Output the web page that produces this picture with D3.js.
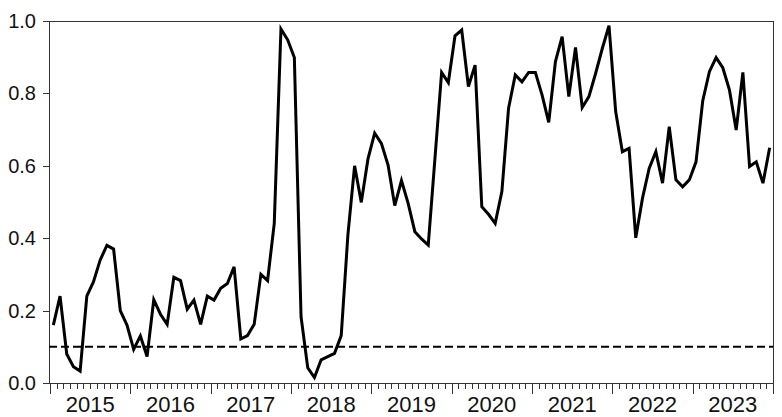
<!DOCTYPE html>
<html>
<head>
<meta charset="utf-8">
<script src="https://cdn.jsdelivr.net/npm/d3@7"></script>
<style>
  body { margin: 0; background: #fff; }
  svg { display: block; }
  text { font-family: "Liberation Sans", Arial, sans-serif; fill: #111; }
</style>
</head>
<body>
<div id="chart"></div>
<script>
var width = 782;
var height = 417;

// monthly values, Jan 2015 .. Dec 2023
var values = [
  0.16, 0.24, 0.08, 0.045, 0.033, 0.24, 0.28, 0.34, 0.38, 0.37, 0.20, 0.16,      // 2015
  0.093, 0.13, 0.073, 0.23, 0.19, 0.162, 0.292, 0.283, 0.204, 0.229, 0.162, 0.24, // 2016
  0.229, 0.262, 0.275, 0.321, 0.122, 0.131, 0.162, 0.30, 0.283, 0.441, 0.978, 0.948, // 2017
  0.899, 0.183, 0.042, 0.015, 0.064, 0.073, 0.082, 0.131, 0.409, 0.60, 0.499, 0.619, // 2018
  0.69, 0.662, 0.602, 0.49, 0.559, 0.496, 0.418, 0.398, 0.381, 0.62, 0.858, 0.83,   // 2019
  0.959, 0.975, 0.819, 0.878, 0.487, 0.466, 0.441, 0.529, 0.759, 0.851, 0.832, 0.858, // 2020
  0.858, 0.796, 0.72, 0.888, 0.957, 0.791, 0.927, 0.761, 0.791, 0.855, 0.924, 0.987, // 2021
  0.75, 0.639, 0.648, 0.401, 0.51, 0.593, 0.639, 0.552, 0.708, 0.561, 0.542, 0.561,  // 2022
  0.611, 0.779, 0.86, 0.899, 0.871, 0.809, 0.699, 0.858, 0.598, 0.611, 0.552, 0.65   // 2023
];
var years = [2015, 2016, 2017, 2018, 2019, 2020, 2021, 2022, 2023];
var yTicks = [0.0, 0.2, 0.4, 0.6, 0.8, 1.0];
var threshold = 0.1;

var pLeft = 49, pRight = 773, pTop = 21, pBottom = 383;

var svg = d3.select("#chart").append("svg")
  .attr("width", width)
  .attr("height", height);

var x = d3.scaleLinear().domain([0, years.length * 12]).range([50, pRight]);
var y = d3.scaleLinear().domain([0, 1]).range([pBottom, pTop]);

// frame
svg.append("rect")
  .attr("x", pLeft + 0.5).attr("y", pTop + 0.5)
  .attr("width", pRight - pLeft).attr("height", pBottom - pTop)
  .attr("fill", "none").attr("stroke", "#333").attr("stroke-width", 1);

// y axis ticks + labels
svg.append("g").selectAll("line").data(yTicks).enter().append("line")
  .attr("x1", pLeft - 6).attr("x2", pLeft)
  .attr("y1", function(d) { return Math.round(y(d)) + 0.5; })
  .attr("y2", function(d) { return Math.round(y(d)) + 0.5; })
  .attr("stroke", "#333");
svg.append("g").selectAll("text").data(yTicks).enter().append("text")
  .attr("x", 36).attr("y", function(d) { return y(d); })
  .attr("dy", "0.35em")
  .attr("text-anchor", "end")
  .style("font-size", "20px")
  .text(function(d) { return d.toFixed(1); });

// x axis: month minor ticks, year major ticks
var months = d3.range(0, years.length * 12 + 1);
svg.append("g").selectAll("line").data(months).enter().append("line")
  .attr("x1", function(d) { return Math.round(x(d)) + 0.5; })
  .attr("x2", function(d) { return Math.round(x(d)) + 0.5; })
  .attr("y1", pBottom)
  .attr("y2", function(d) { return d % 12 == 0 ? pBottom + 11 : pBottom + 6; })
  .attr("stroke", "#333");
svg.append("g").selectAll("text").data(years).enter().append("text")
  .attr("x", function(d, i) { return x(i * 12 + 6); })
  .attr("y", 412)
  .attr("text-anchor", "middle")
  .style("font-size", "22px")
  .text(function(d) { return d; });

// threshold
svg.append("line")
  .attr("x1", pLeft).attr("x2", pRight)
  .attr("y1", y(threshold)).attr("y2", y(threshold))
  .attr("stroke", "#000").attr("stroke-width", 2)
  .attr("stroke-dasharray", "8,4");

// series
var line = d3.line()
  .x(function(d, i) { return x(i + 0.5); })
  .y(function(d) { return y(d); });

svg.append("path")
  .datum(values)
  .attr("d", line)
  .attr("fill", "none")
  .attr("stroke", "#000")
  .attr("stroke-width", 3)
  .attr("stroke-linejoin", "miter");
</script>
</body>
</html>
